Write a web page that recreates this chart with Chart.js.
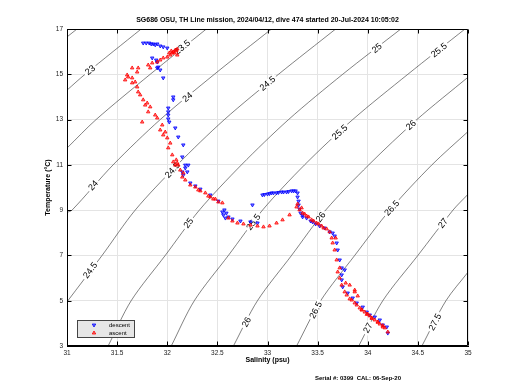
<!DOCTYPE html>
<html lang="en">
<head>
<meta charset="UTF-8">
<title>SG686 T-S diagram</title>
<script src="https://cdn.jsdelivr.net/npm/chart.js@4"></script>
<style>
  html, body { margin: 0; padding: 0; background: #fff; }
  #wrap { width: 520px; height: 390px; }
</style>
</head>
<body>
<div id="wrap"><canvas id="tsChart" width="520" height="390"></canvas></div>
<script>
// axis ticks
const salTicks = [31, 31.5, 32, 32.5, 33, 33.5, 34, 34.5, 35];
const tempTicks = [3, 5, 7, 9, 11, 13, 15, 17];

// descent (blue, surface -> bottom)
const descentSal = [31.76, 31.79, 31.82, 31.84, 31.86, 31.88, 31.90, 31.93, 31.96, 32.00,
  31.85, 31.89, 31.90, 31.90, 31.91, 31.93, 31.96, 32.06, 32.06, 32.01,
  32.01, 32.01, 32.01, 32.02, 32.08, 32.11, 32.16, 32.15, 32.18, 32.21,
  32.18, 32.20, 32.15, 32.16, 32.23, 32.28, 32.33, 32.43, 32.51, 32.57,
  32.55, 32.59, 32.56, 32.61, 32.58, 32.65, 32.73, 32.83, 32.90, 32.85,
  32.95, 32.97, 33.00, 33.02, 33.04, 33.06, 33.09, 33.11, 33.14, 33.16,
  33.19, 33.21, 33.24, 33.26, 33.28, 33.30, 33.30, 33.31, 33.31, 33.32,
  33.33, 33.35, 33.35, 33.39, 33.43, 33.45, 33.48, 33.52, 33.57, 33.62, 33.65, 33.67,
  33.69, 33.70, 33.72, 33.74, 33.77, 33.74, 33.74, 33.75, 33.80, 33.85,
  33.89, 33.95, 33.99, 34.02, 34.07, 34.12, 34.15, 34.19, 34.20];
const descentTemp = [16.38, 16.38, 16.38, 16.34, 16.34, 16.30, 16.34, 16.25, 16.21, 16.16,
  15.72, 15.63, 15.54, 15.28, 15.32, 15.19, 14.84, 14.00, 13.87, 13.51,
  13.34, 13.20, 13.03, 12.89, 12.63, 12.23, 11.88, 11.35, 10.99, 10.99,
  10.86, 10.69, 10.69, 10.55, 10.20, 10.07, 9.93, 9.67, 9.40, 9.01,
  8.92, 8.87, 8.79, 8.70, 8.65, 8.61, 8.52, 8.48, 8.43, 9.23,
  9.67, 9.69, 9.71, 9.73, 9.76, 9.76, 9.76, 9.78, 9.80, 9.80,
  9.80, 9.82, 9.85, 9.85, 9.85, 9.76, 9.58, 9.40, 9.23, 9.05,
  8.87, 8.79, 8.70, 8.65, 8.52, 8.48, 8.39, 8.30, 8.21, 8.04, 7.99, 7.86,
  7.55, 7.24, 6.80, 6.45, 6.36, 6.14, 5.92, 5.61, 5.34, 5.12,
  4.90, 4.72, 4.50, 4.37, 4.28, 4.15, 3.93, 3.84, 3.57];

// ascent (red, bottom -> surface)
const ascentSal = [34.20, 34.17, 34.15, 34.15, 34.12, 34.10, 34.10, 34.07, 34.04, 34.04,
  34.02, 34.00, 33.99, 33.97, 33.94, 33.94, 33.92, 33.89, 33.87, 33.84,
  33.90, 33.87, 33.87, 33.82, 33.82, 33.79, 33.77, 33.74, 33.78,
  33.72, 33.70, 33.72, 33.69, 33.67, 33.65, 33.64, 33.68, 33.62, 33.59,
  33.56, 33.54, 33.51, 33.49, 33.46, 33.44, 33.41, 33.39, 33.37, 33.35, 33.34, 33.32, 33.30, 33.29, 33.22, 33.15,
  33.09, 33.02, 32.96, 32.90, 32.83, 32.76, 32.70, 32.65, 32.61, 32.55,
  32.51, 32.48, 32.46, 32.43, 32.41, 32.38, 32.33, 32.31, 32.28, 32.23, 32.18, 32.16, 32.15, 32.13, 32.11,
  32.10, 32.08, 32.09, 32.06, 32.05, 32.01, 32.03, 32.00, 31.98, 31.96, 31.93, 31.95,
  31.90, 31.88, 31.81, 31.83, 31.80, 31.78, 31.75, 31.76, 31.73, 31.71,
  31.70, 31.68, 31.65, 31.61, 31.60, 31.58, 31.65, 31.70, 31.65, 31.71,
  31.81, 31.83, 31.85, 31.90, 31.93, 31.96, 32.00, 32.02, 32.03, 32.05, 32.04, 32.06,
  32.07, 32.08, 32.09, 32.10, 32.10];
const ascentTemp = [3.62, 3.80, 3.84, 3.90, 3.97, 4.05, 4.06, 4.15, 4.22, 4.24,
  4.33, 4.41, 4.40, 4.50, 4.59, 4.60, 4.68, 4.81, 4.90, 5.03,
  5.21, 5.47, 5.39, 5.69, 5.08, 5.25, 5.39, 5.69, 5.78,
  6.00, 6.27, 6.45, 6.80, 7.24, 7.55, 7.77, 7.77, 8.04, 8.17,
  8.21, 8.30, 8.39, 8.43, 8.52, 8.57, 8.70, 8.74, 8.83, 8.87, 9.10, 9.01, 9.27, 9.14, 8.79, 8.57,
  8.43, 8.30, 8.26, 8.30, 8.34, 8.39, 8.43, 8.52, 8.65, 9.32,
  9.36, 9.49, 9.49, 9.58, 9.62, 9.76, 9.85, 9.89, 10.02, 10.11, 10.33, 10.64, 10.46, 10.77, 10.99,
  11.08, 10.99, 11.22, 11.13, 11.44, 11.75, 11.96, 12.19, 12.45, 12.32, 12.54, 12.76,
  13.07, 13.20, 13.34, 13.56, 13.73, 13.64, 12.89, 13.87, 14.09, 14.22,
  14.44, 14.66, 14.84, 14.88, 14.97, 14.75, 14.62, 15.10, 15.28, 15.28,
  15.41, 15.28, 15.50, 15.54, 15.63, 15.72, 15.76, 15.94, 15.85, 15.94, 16.03, 15.99,
  15.94, 16.07, 16.03, 16.12, 15.85];

// sigma-theta contours, points
const sigmaLevels = [22.5, 23, 23.5, 24, 24.5, 25, 25.5, 26, 26.5, 27, 27.5];
const sigmaSal = [
  [31.0, 31.1],
  [31.0, 31.18, 31.74],
  [31.0, 31.29, 31.83, 32.39],
  [31.0, 31.05, 31.46, 31.93, 32.47, 33.04],
  [31.0, 31.35, 31.68, 32.10, 32.57, 33.11, 33.68],
  [31.41, 31.64, 31.98, 32.32, 32.74, 33.21, 33.75, 34.33],
  [32.04, 32.27, 32.61, 32.95, 33.37, 33.85, 34.40, 34.97],
  [32.66, 32.90, 33.24, 33.58, 34.01, 34.49, 35.0],
  [33.29, 33.53, 33.87, 34.22, 34.64, 35.0],
  [33.91, 34.15, 34.50, 34.85, 35.0],
  [34.54, 34.78, 35.0]
];
const sigmaTemp = [
  [16.65, 17],
  [14.3, 15, 17],
  [11.74, 13, 15, 17],
  [8.9, 9, 11, 13, 15, 17],
  [4.95, 7, 9, 11, 13, 15, 17],
  [3, 5, 7, 9, 11, 13, 15, 17],
  [3, 5, 7, 9, 11, 13, 15, 17],
  [3, 5, 7, 9, 11, 13, 14.87],
  [3, 5, 7, 9, 11, 12.47],
  [3, 5, 7, 9, 9.7],
  [3, 5, 6.26]
];

// contour labels
const labelLevel = [23, 23.5, 24, 24, 24.5, 24.5, 24.5, 25, 25, 25.5, 25.5, 25.5, 26, 26, 26, 26.5, 26.5, 27, 27, 27.5];
const labelSal = [31.23, 32.15, 31.26, 32.2, 31.23, 32.05, 33.0, 32.21, 34.09, 32.86, 33.72, 34.71, 32.79, 33.53, 34.43, 33.48, 34.24, 34.0, 34.75, 34.67];
const labelTemp = [15.19, 16.2, 10.1, 14.0, 6.35, 10.77, 14.6, 8.43, 16.16, 8.48, 12.45, 16.07, 4.06, 8.7, 12.76, 4.59, 9.1, 3.8, 8.43, 4.06];

const titleText = 'SG686 OSU, TH Line mission, 2024/04/12, dive 474 started 20-Jul-2024 10:05:02';
const serialText = 'Serial #: 0399  CAL: 06-Sep-20';
const FONT = '"Liberation Sans", Arial, sans-serif';

function pts(sal, temp) {
  return sal.map((s, i) => ({ x: s, y: temp[i] }));
}

const datasets = [
  {
    label: 'ascent',
    data: pts(ascentSal, ascentTemp),
    pointStyle: 'triangle',
    pointRadius: 2,
    borderWidth: 0.8,
    borderColor: '#ff0000',
    backgroundColor: 'rgba(255,0,0,0.5)',
    order: 1
  },
  {
    label: 'descent',
    data: pts(descentSal, descentTemp),
    pointStyle: 'triangle',
    rotation: 180,
    pointRadius: 2,
    borderWidth: 0.8,
    borderColor: '#0000ff',
    backgroundColor: 'rgba(0,0,255,0.5)',
    order: 2
  }
];
sigmaLevels.forEach((lv, k) => {
  datasets.push({
    label: 'sigma ' + lv,
    level: lv,
    data: pts(sigmaSal[k], sigmaTemp[k]),
    showLine: true,
    pointRadius: 0,
    borderWidth: 0.7,
    borderColor: 'rgba(30,30,30,0.8)',
    tension: 0.3,
    order: 3
  });
});

// labels cut into each contour line
const contourLabels = {
  id: 'contourLabels',
  afterDatasetDraw(chart, args) {
    const ds = chart.data.datasets[args.index];
    if (ds.level === undefined) return;
    const { ctx, scales: { x, y } } = chart;
    const k = sigmaLevels.indexOf(ds.level);
    const ss = sigmaSal[k], ts = sigmaTemp[k];
    labelLevel.forEach((lv, i) => {
      if (lv !== ds.level) return;
      const t = labelTemp[i];
      let j = 0;
      while (j < ts.length - 2 && ts[j + 1] < t) j++;
      const ang = Math.atan2(
        y.getPixelForValue(ts[j + 1]) - y.getPixelForValue(ts[j]),
        x.getPixelForValue(ss[j + 1]) - x.getPixelForValue(ss[j]));
      ctx.save();
      ctx.translate(x.getPixelForValue(labelSal[i]), y.getPixelForValue(t));
      ctx.rotate(ang);
      ctx.font = '9px ' + FONT;
      ctx.textAlign = 'center';
      ctx.textBaseline = 'middle';
      const txt = String(lv);
      const w = ctx.measureText(txt).width;
      ctx.fillStyle = '#fff';
      ctx.fillRect(-w / 2 - 2, -3.5, w + 4, 7);
      ctx.fillStyle = '#000';
      ctx.fillText(txt, 0, 0.5);
      ctx.restore();
    });
  }
};

// box and inward tick marks
const frame = {
  id: 'frame',
  afterDatasetsDraw(chart) {
    const { ctx, chartArea: a, scales: { x, y } } = chart;
    const L = Math.round(a.left) + 0.5, R = Math.round(a.right) - 0.5;
    const T = Math.round(a.top) + 0.5, B = Math.round(a.bottom) - 0.5;
    ctx.save();
    ctx.strokeStyle = '#000';
    ctx.lineWidth = 1;
    ctx.beginPath();
    ctx.rect(L, T, R - L, B - T);
    salTicks.forEach(v => {
      const p = Math.round(x.getPixelForValue(v)) + 0.5;
      ctx.moveTo(p, B); ctx.lineTo(p, B - 4);
      ctx.moveTo(p, T); ctx.lineTo(p, T + 4);
    });
    tempTicks.forEach(v => {
      const p = Math.round(y.getPixelForValue(v)) + 0.5;
      ctx.moveTo(L, p); ctx.lineTo(L + 4, p);
      ctx.moveTo(R, p); ctx.lineTo(R - 4, p);
    });
    ctx.stroke();
    ctx.restore();
  }
};

function tri(ctx, cx, cy, r, down) {
  const d = down ? -1 : 1;
  ctx.beginPath();
  ctx.moveTo(cx, cy - d * r);
  ctx.lineTo(cx + r * 0.87, cy + d * r * 0.5);
  ctx.lineTo(cx - r * 0.87, cy + d * r * 0.5);
  ctx.closePath();
  ctx.fill();
  ctx.stroke();
}

// titles, axis labels, legend
const texts = {
  id: 'texts',
  afterDraw(chart) {
    const { ctx, chartArea: a } = chart;
    const cx = (a.left + a.right) / 2;
    ctx.save();
    ctx.fillStyle = '#000';
    ctx.textAlign = 'center';
    ctx.textBaseline = 'middle';
    ctx.font = 'bold 7px ' + FONT;
    ctx.fillText(titleText, cx, 20);
    ctx.fillText('Salinity (psu)', cx, 360);
    ctx.font = 'bold 6px ' + FONT;
    ctx.fillText(serialText, 358, 378);
    ctx.save();
    ctx.font = 'bold 7px ' + FONT;
    ctx.translate(48, (a.top + a.bottom) / 2);
    ctx.rotate(-Math.PI / 2);
    ctx.fillText('Temperature (°C)', 0, 0);
    ctx.restore();

    // legend box
    ctx.fillStyle = '#e6e6e6';
    ctx.strokeStyle = '#444';
    ctx.lineWidth = 1;
    ctx.fillRect(77.5, 320.5, 57, 17);
    ctx.strokeRect(77.5, 320.5, 57, 17);
    ctx.lineWidth = 0.8;
    ctx.strokeStyle = '#0000ff';
    ctx.fillStyle = 'rgba(0,0,255,0.5)';
    tri(ctx, 94, 325, 2, true);
    ctx.strokeStyle = '#ff0000';
    ctx.fillStyle = 'rgba(255,0,0,0.5)';
    tri(ctx, 94, 333, 2, false);
    ctx.fillStyle = '#000';
    ctx.textAlign = 'left';
    ctx.font = '6px ' + FONT;
    ctx.fillText('descent', 109, 325);
    ctx.fillText('ascent', 109, 333);
    ctx.restore();
  }
};

new Chart(document.getElementById('tsChart'), {
  type: 'scatter',
  data: { datasets },
  options: {
    responsive: false,
    animation: false,
    events: [],
    layout: { padding: { top: 29, right: 52, left: 0, bottom: 0 } },
    plugins: {
      legend: { display: false },
      tooltip: { enabled: false }
    },
    scales: {
      x: {
        type: 'linear',
        min: 31,
        max: 35,
        afterBuildTicks: s => { s.ticks = salTicks.map(v => ({ value: v })); },
        afterFit: s => { s.height = 44; },
        ticks: {
          callback: v => String(v),
          font: { size: 6.5, family: FONT },
          color: '#222',
          padding: 3,
          maxRotation: 0
        },
        grid: { color: '#e4e4e4', drawTicks: false },
        border: { color: '#000' }
      },
      y: {
        type: 'linear',
        min: 3,
        max: 17,
        afterBuildTicks: s => { s.ticks = tempTicks.map(v => ({ value: v })); },
        afterFit: s => { s.width = 67; },
        ticks: {
          callback: v => String(v),
          font: { size: 6.5, family: FONT },
          color: '#222',
          padding: 4
        },
        grid: { color: '#e4e4e4', drawTicks: false },
        border: { color: '#000' }
      }
    }
  },
  plugins: [contourLabels, frame, texts]
});
</script>
</body>
</html>
